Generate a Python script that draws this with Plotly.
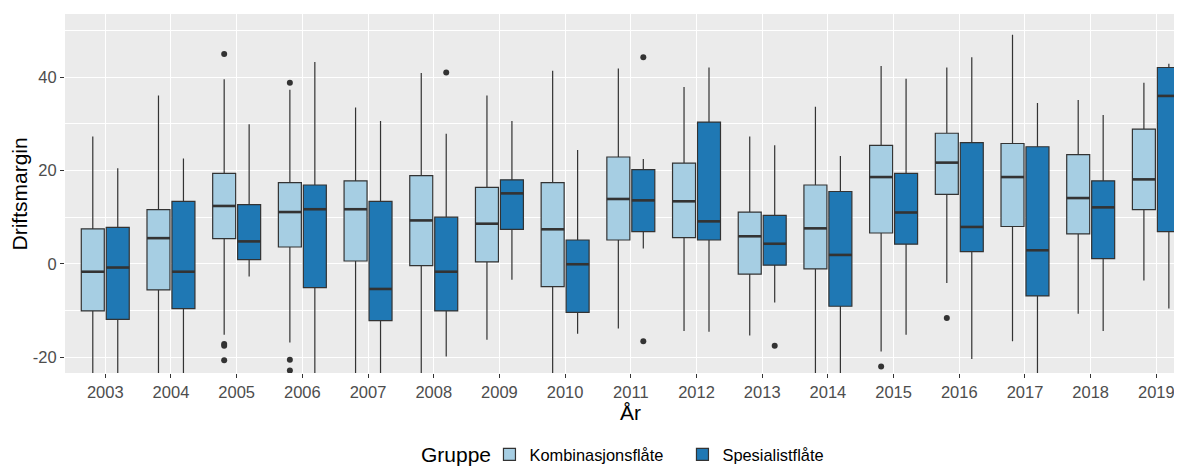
import plotly.graph_objects as go

years = ["2003", "2004", "2005", "2006", "2007", "2008", "2009", "2010", "2011",
         "2012", "2013", "2014", "2015", "2016", "2017", "2018", "2019"]

groups = ["Kombinasjonsflåte", "Spesialistflåte"]
colors = ["#A6CEE3", "#1F78B4"]

# Kombinasjonsflåte
k_low = [-30.0, -31.0, -15.2, -16.9, -29.0, -32.0, -16.3, -30.0, -13.9, -14.4, -15.4, -28.0, -18.8, -4.1, -16.6, -10.7, -3.6]
k_q1 = [-10.1, -5.6, 5.4, 3.6, 0.6, -0.4, 0.4, -4.9, 5.1, 5.6, -2.2, -1.1, 6.6, 14.9, 8.0, 6.4, 11.6]
k_med = [-1.7, 5.5, 12.4, 11.1, 11.7, 9.3, 8.6, 7.4, 13.9, 13.4, 5.9, 7.6, 18.6, 21.7, 18.6, 14.1, 18.1]
k_q3 = [7.5, 11.6, 19.4, 17.4, 17.8, 18.9, 16.4, 17.4, 22.9, 21.6, 11.1, 16.9, 25.4, 28.0, 25.8, 23.4, 28.9]
k_high = [27.3, 36.1, 39.6, 37.3, 33.5, 40.9, 36.1, 41.4, 41.9, 37.9, 27.3, 33.7, 42.4, 42.1, 49.1, 35.1, 38.8]

# Spesialistflåte
s_low = [-29.0, -30.0, -2.7, -31.0, -28.0, -19.9, -3.4, -15.0, 3.3, -14.6, -8.3, -30.0, -15.2, -20.4, -29.0, -14.4, -9.6]
s_q1 = [-11.9, -9.6, 0.9, -5.1, -12.2, -10.1, 7.4, -10.4, 6.9, 5.1, -0.3, -9.1, 4.2, 2.6, -6.9, 1.1, 6.9]
s_med = [-0.8, -1.7, 4.8, 11.7, -5.4, -1.7, 15.1, -0.1, 13.6, 9.1, 4.3, 1.9, 11.0, 7.9, 2.9, 12.1, 36.0]
s_q3 = [7.8, 13.4, 12.7, 16.9, 13.4, 10.0, 18.0, 5.1, 20.2, 30.4, 10.4, 15.5, 19.4, 26.0, 25.1, 17.8, 42.1]
s_high = [20.5, 22.6, 29.9, 43.3, 30.6, 27.9, 30.6, 24.4, 22.5, 42.1, 25.4, 23.1, 39.7, 44.3, 34.5, 31.9, 42.9]

# Outliers: (year, value)
k_out_years = ["2005", "2005", "2005", "2005", "2006", "2006", "2006", "2012", "2015", "2016"]
k_out_vals = [45.0, -17.2, -17.6, -20.7, 38.8, -20.6, -22.9, -24.1, -22.0, -11.6]
s_out_years = ["2008", "2011", "2011", "2013"]
s_out_vals = [41.0, 44.3, -16.6, -17.6]

DODGE = 0.19
BOXW = 0.35
FONT = "Liberation Sans, Arial, sans-serif"
LINE = "#333333"

idx = {y: i for i, y in enumerate(years)}

fig = go.Figure()

series = [
    (groups[0], colors[0], -DODGE, k_low, k_q1, k_med, k_q3, k_high, k_out_years, k_out_vals),
    (groups[1], colors[1], DODGE, s_low, s_q1, s_med, s_q3, s_high, s_out_years, s_out_vals),
]

for name, col, off, lo, q1, med, q3, hi, oy, ov in series:
    xs = [i + off for i in range(len(years))]
    fig.add_trace(go.Box(
        name=name, x=xs, q1=q1, median=med, q3=q3, lowerfence=lo, upperfence=hi,
        fillcolor=col, line=dict(color=LINE, width=1.2), width=BOXW,
        whiskerwidth=0, boxpoints=False, hoverinfo="skip",
    ))

for name, col, off, lo, q1, med, q3, hi, oy, ov in series:
    mx, my = [], []
    for i, m in enumerate(med):
        c = i + off
        mx += [c - BOXW / 2, c + BOXW / 2, None]
        my += [m, m, None]
    fig.add_trace(go.Scatter(x=mx, y=my, mode="lines", line=dict(color=LINE, width=2.6),
                             showlegend=False, hoverinfo="skip"))
    fig.add_trace(go.Scatter(x=[idx[y] + off for y in oy], y=ov, mode="markers",
                             marker=dict(color=LINE, size=6), showlegend=False,
                             hoverinfo="skip", cliponaxis=True))

LEG_Y = -0.2274

# The page body has an 8px default margin, so the figure is 8px smaller each way.
fig.update_layout(
    width=1174, height=460,
    margin=dict(l=57, r=0, t=6, b=95, autoexpand=False),
    paper_bgcolor="white", plot_bgcolor="#EBEBEB",
    boxmode="overlay",
    font=dict(family=FONT, color="black"),
    showlegend=True,
    legend=dict(
        orientation="h", x=0.380, xanchor="left", y=LEG_Y, yanchor="middle",
        font=dict(size=16.4, color="black", family=FONT),
        entrywidth=148, entrywidthmode="pixels",
        bgcolor="rgba(0,0,0,0)",
    ),
    xaxis=dict(
        automargin=False,
        range=[-0.613, 16.39], tickmode="array", tickvals=list(range(len(years))),
        ticktext=years, showgrid=True, gridcolor="white", gridwidth=1.2,
        zeroline=False, ticks="outside", ticklen=4, tickcolor=LINE, tickwidth=1,
        tickfont=dict(size=16.5, color="#4D4D4D", family=FONT), showline=False,
    ),
    yaxis=dict(
        automargin=False,
        range=[-23.42, 53.57], tickmode="array", tickvals=[-20, 0, 20, 40],
        ticktext=["-20", "0", "20", "40"], showgrid=True, gridcolor="white", gridwidth=1.2,
        zeroline=False, ticks="outside", ticklen=4, tickcolor=LINE, tickwidth=1,
        tickfont=dict(size=16.5, color="#4D4D4D", family=FONT), showline=False,
        minor=dict(tickvals=[-10, 10, 30, 50], showgrid=True, gridcolor="white", gridwidth=0.6, ticks=""),
    ),
    annotations=[
        dict(text="År", xref="paper", yref="paper", x=0.5067, y=-0.1105,
             xanchor="center", yanchor="middle", showarrow=False,
             font=dict(size=21, color="black", family=FONT)),
        dict(text="Driftsmargin", xref="paper", yref="paper", x=-0.0403, y=0.5,
             xanchor="center", yanchor="middle", showarrow=False, textangle=-90,
             font=dict(size=21, color="black", family=FONT)),
        dict(text="Gruppe", xref="paper", yref="paper", x=0.3169, y=LEG_Y,
             xanchor="left", yanchor="middle", showarrow=False,
             font=dict(size=21, color="black", family=FONT)),
    ],
)

fig.write_html("out.html")
